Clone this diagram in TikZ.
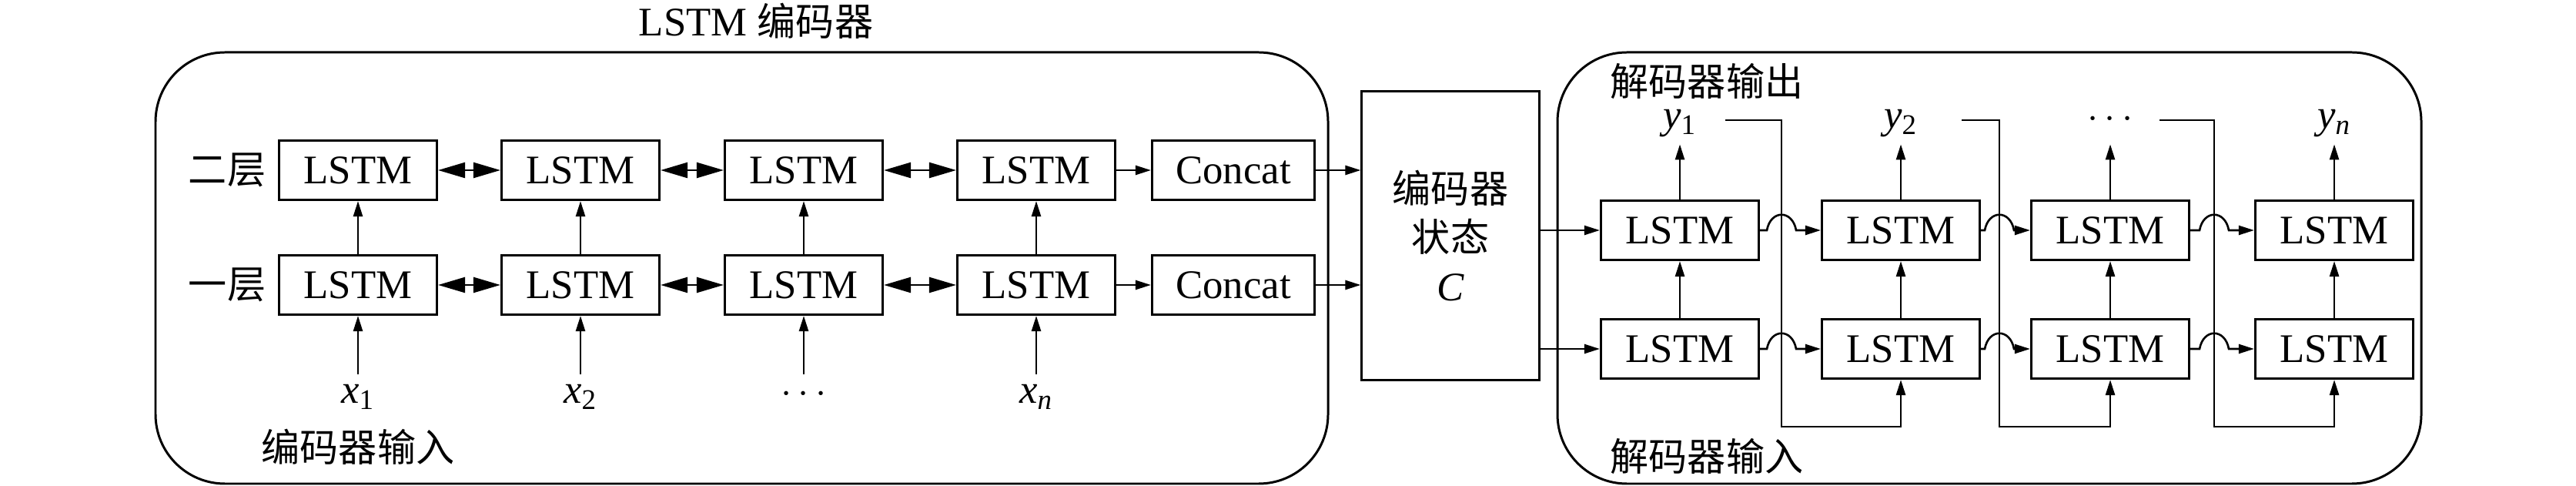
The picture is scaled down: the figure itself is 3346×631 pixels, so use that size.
\documentclass[tikz,border=0pt]{standalone}
\usepackage{fontspec}
\setmainfont{Liberation Serif}
\newfontfamily\cjk[Scale=0.95]{Noto Sans CJK SC}
\usetikzlibrary{arrows.meta,positioning,calc}

\tikzset{
  cell/.style={draw, line width=0.85pt, minimum width=2.05cm, minimum height=0.77cm, inner sep=0pt, font=\fontsize{15}{18}\selectfont},
  panel/.style={draw, line width=0.85pt, rounded corners=0.9cm},
  lab/.style={font=\fontsize{15}{18}\selectfont},
  seq/.style={lab, text height=1.6ex, text depth=0.5ex},
  arr/.style={line width=0.75pt, -{Triangle[length=5.7pt,width=3.4pt]}},
  biarr/.style={line width=0.75pt, {Triangle[length=10pt,width=5.7pt]}-{Triangle[length=10pt,width=5.7pt]}},
}

\begin{document}
\begin{tikzpicture}[x=0.01cm, y=-0.01cm]
    \useasboundingbox (0,0) rectangle (3346,631);

    % frames
    \draw[panel] (202,68) rectangle (1725,628);
    \draw[panel] (2023,68) rectangle (3145,628);
    \node[lab] (enctitle) at (982,27) {LSTM {\cjk 编码器}};

    % encoder
    \node[lab] (two) at (295,221) {{\cjk 二层}};
    \node[lab] (one) at (295,370) {{\cjk 一层}};
    \node[cell] (e1t) at (465,221) {LSTM};
    \node[cell] (e2t) at (754,221) {LSTM};
    \node[cell] (e3t) at (1044,221) {LSTM};
    \node[cell] (e4t) at (1346,221) {LSTM};
    \node[cell, minimum width=2.11cm] (ct) at (1602,221) {Concat};
    \node[cell] (e1b) at (465,370) {LSTM};
    \node[cell] (e2b) at (754,370) {LSTM};
    \node[cell] (e3b) at (1044,370) {LSTM};
    \node[cell] (e4b) at (1346,370) {LSTM};
    \node[cell, minimum width=2.11cm] (cb) at (1602,370) {Concat};
    \node[seq] (x1) at (465,515) {{\itshape x}\textsubscript{1}};
    \node[seq] (x2) at (754,515) {{\itshape x}\textsubscript{2}};
    \node[seq] (x3) at (1044,515) {$\cdots$};
    \node[seq] (x4) at (1346,515) {{\itshape x}\textsubscript{\itshape n}};
    \node[lab] (encin) at (465,580) {{\cjk 编码器输入}};

    % state
    \node[cell, minimum width=2.30cm, minimum height=3.74cm, align=center] (state) at (1884,306)
        {{\cjk 编码器}\\{\cjk 状态}\\{\itshape C}};

    % decoder
    \node[lab] (decout) at (2217,105) {{\cjk 解码器输出}};
    \node[lab] (decin) at (2217,592) {{\cjk 解码器输入}};
    \node[cell] (d1t) at (2182,299) {LSTM};
    \node[cell] (d2t) at (2469,299) {LSTM};
    \node[cell] (d3t) at (2741,299) {LSTM};
    \node[cell] (d4t) at (3032,299) {LSTM};
    \node[cell] (d1b) at (2182,453) {LSTM};
    \node[cell] (d2b) at (2469,453) {LSTM};
    \node[cell] (d3b) at (2741,453) {LSTM};
    \node[cell] (d4b) at (3032,453) {LSTM};
    \node[seq] (y1) at (2182,158) {{\itshape y}\textsubscript{1}};
    \node[seq] (y2) at (2469,158) {{\itshape y}\textsubscript{2}};
    \node[seq] (y3) at (2741,158) {$\cdots$};
    \node[seq] (y4) at (3032,158) {{\itshape y}\textsubscript{\itshape n}};

    % feedback corners
    \coordinate (f1) at (2241,156);
    \coordinate (f2) at (2548,156);
    \coordinate (f3) at (2805,156);
    \coordinate (v1) at (2314,156);
    \coordinate (v2) at (2597,156);
    \coordinate (v3) at (2876,156);
    \coordinate (b1) at (2314,554);
    \coordinate (b2) at (2597,554);
    \coordinate (b3) at (2876,554);

    % encoder links
    \foreach \a/\b in {e1t/e2t, e2t/e3t, e3t/e4t, e1b/e2b, e2b/e3b, e3b/e4b}
        \draw[biarr] (\a) -- (\b);
    \draw[arr] (e4t) -- (ct);
    \draw[arr] (e4b) -- (cb);
    \foreach \i in {1,...,4} {
        \draw[arr] (e\i b) -- (e\i t);
        \draw[arr] (x\i) -- (e\i b);
    }
    \draw[arr] (ct.east) -- (ct.east -| state.west);
    \draw[arr] (cb.east) -- (cb.east -| state.west);

    % decoder links
    \draw[arr] (state.east |- d1t.west) -- (d1t.west);
    \draw[arr] (state.east |- d1b.west) -- (d1b.west);
    \foreach \i in {1,...,4} {
        \draw[arr] (d\i b) -- (d\i t);
        \draw[arr] (d\i t) -- (y\i);
    }
    \foreach \i/\j in {1/2, 2/3, 3/4} {
        \foreach \r in {t,b}
            \draw[arr] (d\i\r.east) -- ($(d\i\r.east -| v\i)+(-19,0)$)
                .. controls +(5,-27) and +(-5,-27) .. ($(d\i\r.east -| v\i)+(19,0)$) -- (d\j\r.west);
        \draw[arr] (f\i) -- (v\i) -- (b\i) -| (d\j b.south);
    }
\end{tikzpicture}
\end{document}
